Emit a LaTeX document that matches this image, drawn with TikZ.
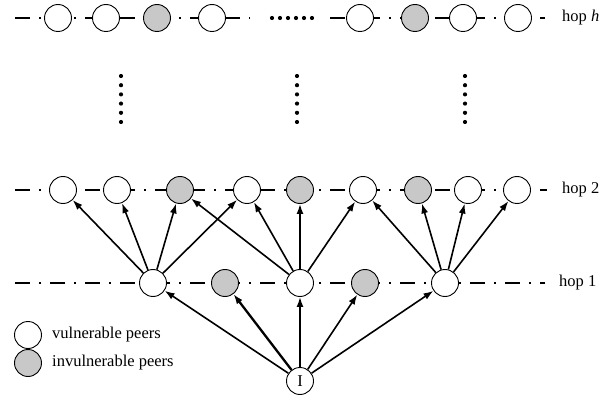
\documentclass[tikz,border=0pt]{standalone}
\usepackage{fontspec}
\setmainfont{Liberation Serif}
\usetikzlibrary{arrows.meta}
\definecolor{shade}{RGB}{200,200,200}
\begin{document}
\begin{tikzpicture}[x=1pt,y=-1pt,
  peer/.style={circle,draw,line width=0.9pt,minimum size=27pt,inner sep=0pt,fill=white,
    font=\fontsize{16.5}{19}\selectfont},
  safe/.style={peer,fill=shade},
  hopline/.style={line width=1.8pt,dash pattern=on 15pt off 9pt on 2pt off 9pt},
  link/.style={line width=1.6pt,-{Latex[length=10pt,width=7pt]}},
  heavylink/.style={link,line width=2.3pt},
  lbl/.style={anchor=west,inner sep=0pt,font=\fontsize{16.5}{19}\selectfont},
  dot/.style={circle,fill,inner sep=0pt,minimum size=4.2pt}]
\useasboundingbox (0,0) rectangle (611,401);

% dash-dot guide lines of the hop levels
\coordinate (hhA) at (15,18);  \coordinate (hhB) at (250,18);
\coordinate (hhC) at (330,18); \coordinate (hhD) at (545,18);
\coordinate (h2A) at (15,190); \coordinate (h2B) at (547,190);
\coordinate (h1A) at (15,283); \coordinate (h1B) at (545,283);
\draw[hopline] (hhA) -- (hhB);
\draw[hopline] (hhC) -- (hhD);
\draw[hopline] (h2A) -- (h2B);
\draw[hopline] (h1A) -- (h1B);

% hop h
\node[peer] (ha) at (58,18) {};
\node[peer] (hb) at (106,18) {};
\node[safe] (hc) at (157,18) {};
\node[peer] (hd) at (212,18) {};
\node[peer] (he) at (360,18) {};
\node[safe] (hf) at (415,18) {};
\node[peer] (hg) at (463,18) {};
\node[peer] (hk) at (518,18) {};
\foreach \i [count=\k] in {0,...,5}
  \node[dot] (hdot\k) at (272+8*\i,18) {};

% vertical ellipses between hop 2 and hop h
\foreach \cx [count=\c] in {121,297,465}
  \foreach \i [count=\k] in {0,...,5}
    \node[dot] (vd\c\k) at (\cx,76+9.2*\i) {};

% hop 2
\node[peer] (ta) at (63,190) {};
\node[peer] (tb) at (117,190) {};
\node[safe] (tc) at (180,190) {};
\node[peer] (td) at (247,190) {};
\node[safe] (te) at (300,190) {};
\node[peer] (tf) at (363,190) {};
\node[safe] (tg) at (418,190) {};
\node[peer] (th) at (468,190) {};
\node[peer] (tk) at (517,190) {};

% hop 1
\node[peer] (oa) at (153,283) {};
\node[safe] (ob) at (225,283) {};
\node[peer] (oc) at (300,283) {};
\node[safe] (od) at (365,283) {};
\node[peer] (oe) at (445,283) {};

% initiator
\node[peer] (init) at (300,381) {I};

% hop labels
\node[lbl] (labh) at (562,18) {hop \textit{h}};
\node[lbl] (lab2) at (562,190) {hop 2};
\node[lbl] (lab1) at (559,283) {hop 1};

% legend
\node[peer] (legv) at (28,335) {};
\node[safe] (legi) at (28,363) {};
\node[lbl] (legvt) at (52,335) {vulnerable peers};
\node[lbl] (legit) at (52,363) {invulnerable peers};

% propagation from the initiator
\draw[link] (init) -- (oa);
\draw[heavylink] (init) -- (ob);
\draw[link] (init) -- (oc);
\draw[link] (init) -- (od);
\draw[link] (init) -- (oe);

% propagation from hop 1 to hop 2
\foreach \t in {ta,tb,tc,td} \draw[link] (oa) -- (\t);
\foreach \t in {tc,td,te,tf} \draw[link] (oc) -- (\t);
\foreach \t in {tf,tg,th,tk} \draw[link] (oe) -- (\t);
\end{tikzpicture}
\end{document}
